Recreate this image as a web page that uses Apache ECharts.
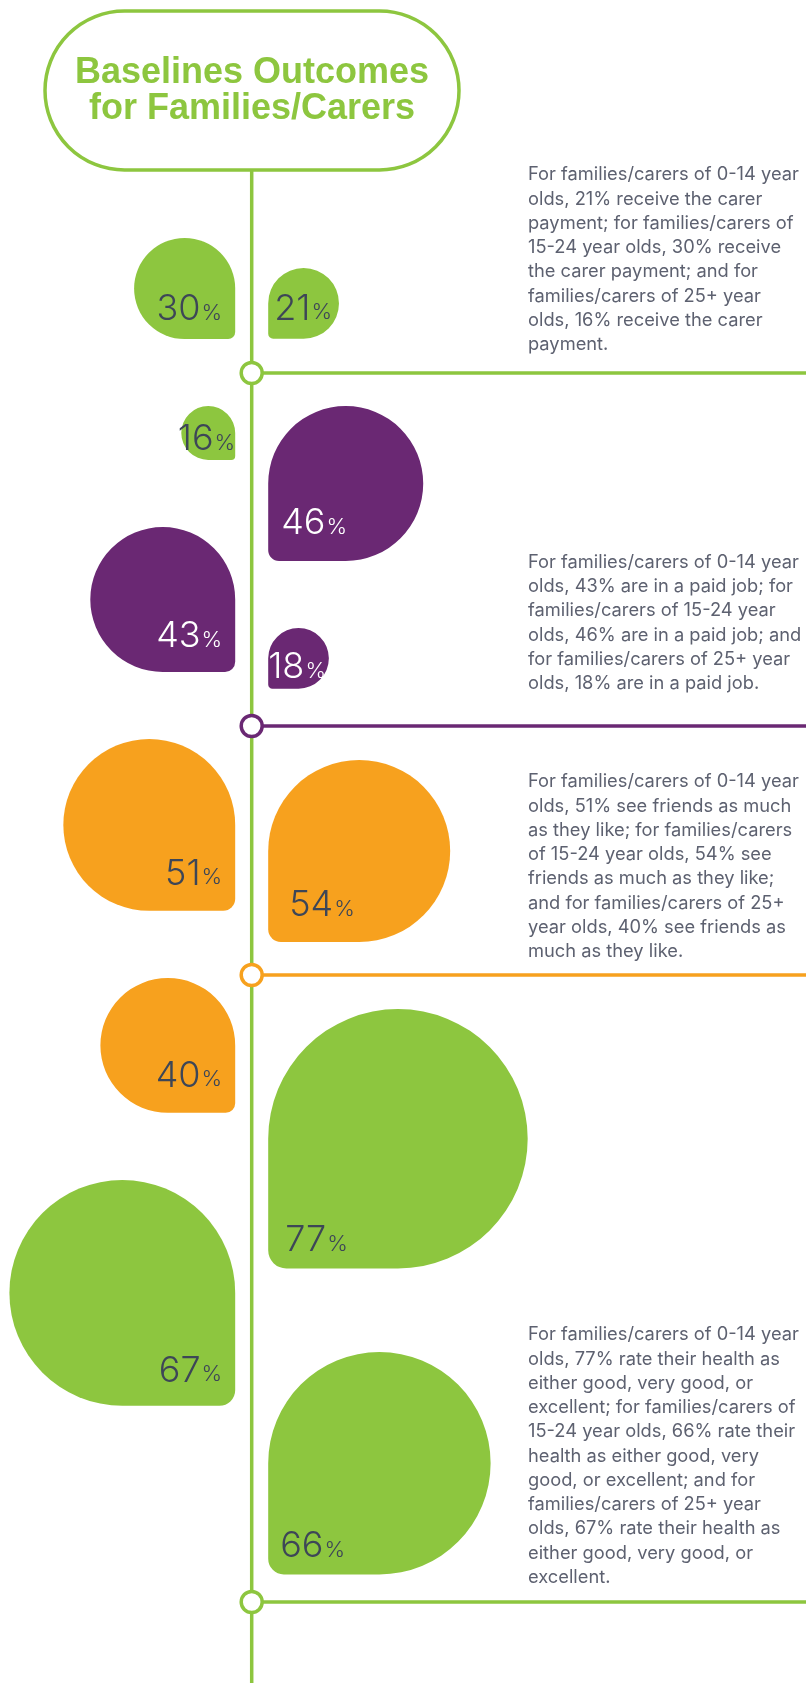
<!DOCTYPE html>
<html>
<head>
<meta charset="utf-8">
<script src="https://cdn.jsdelivr.net/npm/echarts@6/dist/echarts.min.js"></script>
<style>
  html, body { margin: 0; padding: 0; background: #ffffff; }
  #chart { width: 806px; height: 1683px; }
</style>
</head>
<body>
<div id="chart"></div>
<script>
// ---- Data: share of families/carers, by age of the person they care for ----
const ageGroups = ['0-14', '15-24', '25+'];
const carerPayment = [21, 30, 16];   // receive the carer payment
const paidJob = [43, 46, 18];        // are in a paid job
const seeFriends = [51, 54, 40];     // see friends as much as they like
const goodHealth = [77, 66, 67];     // rate health good / very good / excellent

// ---- Palette ----
const GREEN = '#8dc63f';
const PURPLE = '#6a2873';
const ORANGE = '#f7a11e';
const INK = '#3d4657';
const BODY = '#5d6170';

const metrics = [
  { values: carerPayment, color: GREEN, ink: INK },
  { values: paidJob, color: PURPLE, ink: '#ffffff' },
  { values: seeFriends, color: ORANGE, ink: INK },
  { values: goodHealth, color: GREEN, ink: INK }
];

// ---- Layout ----
const LINE_X = 251.7;        // timeline stem
const GAP = 16.5;            // space between stem and a drop
const UNIT = 3.37;           // drop edge length per percentage point
const NODE_Y = [373, 726, 975, 1602];
const NODE_COLORS = [GREEN, PURPLE, ORANGE, GREEN];
const LABEL_FONT = 'Inter, "Open Sans", sans-serif';

// order of drops down the stem; side 'L'/'R', top edge, label inset
const dropLayout = [
  { metric: 0, group: 1, side: 'L', top: 238,  dx: 13, dy: 18 },
  { metric: 0, group: 0, side: 'R', top: 268,  dx: 6,  dy: 18 },
  { metric: 0, group: 2, side: 'L', top: 406,  dx: 0,  dy: 9 },
  { metric: 1, group: 1, side: 'R', top: 406,  dx: 13, dy: 26 },
  { metric: 1, group: 0, side: 'L', top: 527,  dx: 13, dy: 24 },
  { metric: 1, group: 2, side: 'R', top: 628,  dx: 0,  dy: 9 },
  { metric: 2, group: 0, side: 'L', top: 739,  dx: 13, dy: 25 },
  { metric: 2, group: 1, side: 'R', top: 760,  dx: 21, dy: 25 },
  { metric: 2, group: 2, side: 'L', top: 978,  dx: 13, dy: 25 },
  { metric: 3, group: 0, side: 'R', top: 1009, dx: 17, dy: 16 },
  { metric: 3, group: 2, side: 'L', top: 1180, dx: 13, dy: 23 },
  { metric: 3, group: 1, side: 'R', top: 1352, dx: 12, dy: 16 }
];

// ---- Descriptions (values taken from the arrays above) ----
const g = ageGroups;
const descriptions = [
  [
    `For families/carers of ${g[0]} year`,
    `olds, ${carerPayment[0]}% receive the carer`,
    `payment; for families/carers of`,
    `${g[1]} year olds, ${carerPayment[1]}% receive`,
    `the carer payment; and for`,
    `families/carers of ${g[2]} year`,
    `olds, ${carerPayment[2]}% receive the carer`,
    `payment.`
  ],
  [
    `For families/carers of ${g[0]} year`,
    `olds, ${paidJob[0]}% are in a paid job; for`,
    `families/carers of ${g[1]} year`,
    `olds, ${paidJob[1]}% are in a paid job; and`,
    `for families/carers of ${g[2]} year`,
    `olds, ${paidJob[2]}% are in a paid job.`
  ],
  [
    `For families/carers of ${g[0]} year`,
    `olds, ${seeFriends[0]}% see friends as much`,
    `as they like; for families/carers`,
    `of ${g[1]} year olds, ${seeFriends[1]}% see`,
    `friends as much as they like;`,
    `and for families/carers of ${g[2]}`,
    `year olds, ${seeFriends[2]}% see friends as`,
    `much as they like.`
  ],
  [
    `For families/carers of ${g[0]} year`,
    `olds, ${goodHealth[0]}% rate their health as`,
    `either good, very good, or`,
    `excellent; for families/carers of`,
    `${g[1]} year olds, ${goodHealth[1]}% rate their`,
    `health as either good, very`,
    `good, or excellent; and for`,
    `families/carers of ${g[2]} year`,
    `olds, ${goodHealth[2]}% rate their health as`,
    `either good, very good, or`,
    `excellent.`
  ]
];
const DESC_X = 528;
const DESC_FIRST_LINE = [175, 562.5, 782, 1335];
const DESC_LINE_H = 24.25;

// ---- Series data built for the custom series ----
const dropData = dropLayout.map(d => [
  d.side === 'L' ? LINE_X - GAP : LINE_X + GAP,
  d.top,
  metrics[d.metric].values[d.group],
  d.side === 'L' ? 0 : 1,
  d.metric,
  d.dx,
  d.dy
]);

function renderDrop(params, api) {
  const ax = api.value(0);
  const top = api.value(1);
  const v = api.value(2);
  const right = api.value(3) === 1;
  const m = metrics[api.value(4)];
  const dx = api.value(5);
  const dy = api.value(6);
  const s = api.size([v * UNIT, 0])[0];
  const p = api.coord([ax, top]);
  const x = right ? p[0] : p[0] - s;
  const y = p[1];
  const R = s / 2;
  const c = Math.max(4, s * 0.07);
  return {
    type: 'group',
    children: [
      {
        type: 'rect',
        shape: { x: x, y: y, width: s, height: s, r: right ? [R, R, R, c] : [R, R, c, R] },
        style: { fill: m.color }
      },
      {
        type: 'text',
        style: {
          text: '{n|' + v + '}{p|%}',
          x: right ? x + dx : x + s - dx,
          y: y + s - dy + 6,
          align: right ? 'left' : 'right',
          verticalAlign: 'bottom',
          rich: {
            n: { fontFamily: LABEL_FONT, fontWeight: 300, fontSize: 36, lineHeight: 36, fill: m.ink },
            p: { fontFamily: LABEL_FONT, fontWeight: 300, fontSize: 22, lineHeight: 22, fill: m.ink, verticalAlign: 'bottom', padding: [0, 0, 3, 1] }
          }
        }
      }
    ]
  };
}

// ---- Decorations: title pill, stem, nodes, rules and text ----
const graphics = [];
graphics.push({
  type: 'line', z: 1,
  shape: { x1: LINE_X, y1: 170, x2: LINE_X, y2: 1683 },
  style: { stroke: GREEN, lineWidth: 3.5 }
});
NODE_Y.forEach((ny, i) => {
  graphics.push({
    type: 'line', z: 1,
    shape: { x1: LINE_X, y1: ny, x2: 806, y2: ny },
    style: { stroke: NODE_COLORS[i], lineWidth: 3.5 }
  });
  graphics.push({
    type: 'circle', z: 2,
    shape: { cx: LINE_X, cy: ny, r: 10.5 },
    style: { fill: '#ffffff', stroke: NODE_COLORS[i], lineWidth: 3.5 }
  });
});
graphics.push({
  type: 'rect', z: 2,
  shape: { x: 45, y: 11, width: 414, height: 159, r: 79.5 },
  style: { fill: '#ffffff', stroke: GREEN, lineWidth: 3.5 }
});
graphics.push({
  type: 'text', z: 3,
  style: {
    text: 'Baselines Outcomes\nfor Families/Carers',
    x: 252, y: 91,
    align: 'center', verticalAlign: 'middle',
    fontFamily: '"Liberation Sans", Arial, sans-serif',
    fontWeight: 'bold', fontSize: 36, lineHeight: 36,
    fill: GREEN
  }
});
descriptions.forEach((lines, i) => {
  graphics.push({
    type: 'text', z: 3,
    style: {
      text: lines.join('\n'),
      x: DESC_X, y: DESC_FIRST_LINE[i] - DESC_LINE_H / 2,
      align: 'left', verticalAlign: 'top',
      fontFamily: 'Inter, "Open Sans", sans-serif', fontSize: 18.3, lineHeight: DESC_LINE_H,
      fill: BODY
    }
  });
});

const chart = echarts.init(document.getElementById('chart'), null, { renderer: 'canvas' });
chart.setOption({
  backgroundColor: '#ffffff',
  animation: false,
  grid: { left: 0, right: 0, top: 0, bottom: 0 },
  xAxis: { type: 'value', min: 0, max: 806, show: false },
  yAxis: { type: 'value', min: 0, max: 1683, inverse: true, show: false },
  graphic: graphics,
  series: [{
    type: 'custom',
    coordinateSystem: 'cartesian2d',
    renderItem: renderDrop,
    data: dropData,
    clip: false,
    silent: true,
    z: 5
  }]
});
</script>
</body>
</html>
